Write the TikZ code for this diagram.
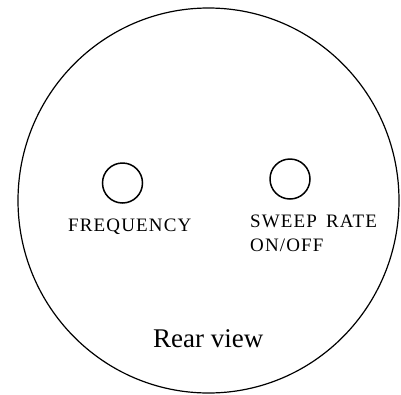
\documentclass[tikz,border=0pt]{standalone}
\usepackage{fontspec}
\setmainfont{Liberation Serif}
\newfontfamily\capsfont[LetterSpace=6]{Liberation Serif}
\begin{document}
\begin{tikzpicture}[x=1pt,y=-1pt,
  lbl/.style={inner sep=0pt,font=\capsfont\fontsize{19}{22}\selectfont},
  knob/.style={draw,line width=1.5pt,circle,minimum size=40pt,inner sep=0pt}]
\useasboundingbox (0,0) rectangle (401,394);
\draw[line width=1.2pt] (208.5,200.5) ellipse [x radius=190.5,y radius=192.5];
\node[knob] (freq) at (122.5,183) {};
\node[knob] (sweep) at (290,179) {};
\node[lbl,anchor=base west] (tfreq) at (68,231) {FREQUENCY};
\node[lbl,anchor=base west] (tsweep) at (250,227) {SWEEP\hspace{9pt}RATE};
\node[lbl,anchor=base west] (tonoff) at (250,251) {ON/OFF};
\node[inner sep=0pt,anchor=base west,font=\fontsize{27}{32}\selectfont] (rear) at (153,347) {Rear view};
\end{tikzpicture}
\end{document}
